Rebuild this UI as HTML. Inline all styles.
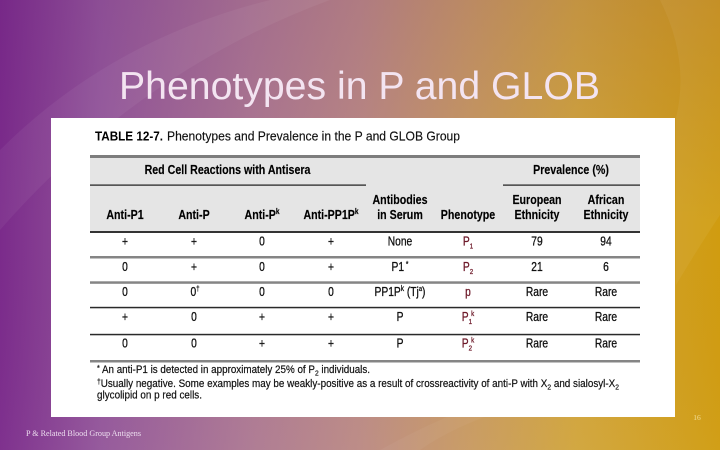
<!DOCTYPE html>
<html>
<head>
<meta charset="utf-8">
<style>
  html,body{margin:0;padding:0;background:#fff;}
  body{width:720px;height:450px;overflow:hidden;}
  svg{display:block;}
  .h{font-family:"Liberation Sans",Arial,sans-serif;font-weight:bold;font-size:13px;fill:#000;stroke:#000;stroke-width:0.15px;}
  .b{font-family:"Liberation Sans",Arial,sans-serif;font-size:12.5px;fill:#111;stroke:#111;stroke-width:0.3px;}
  .ph{font-family:"Liberation Sans",Arial,sans-serif;font-size:12.5px;fill:#6e1a2a;stroke:#6e1a2a;stroke-width:0.3px;}
  .fn{font-family:"Liberation Sans",Arial,sans-serif;font-size:11px;fill:#111;stroke:#111;stroke-width:0.2px;}
</style>
</head>
<body>
<svg width="720" height="450" viewBox="0 0 720 450" xmlns="http://www.w3.org/2000/svg">
  <defs>
    <linearGradient id="bg" x1="0" y1="0" x2="1" y2="0">
      <stop offset="0" stop-color="#7b2b8b"/>
      <stop offset="0.14" stop-color="#93569a"/>
      <stop offset="0.35" stop-color="#ad7992"/>
      <stop offset="0.5" stop-color="#bb8a84"/>
      <stop offset="0.65" stop-color="#c89a62"/>
      <stop offset="0.8" stop-color="#d1a53c"/>
      <stop offset="1" stop-color="#d09c10"/>
    </linearGradient>
    <linearGradient id="vsh" x1="0" y1="0" x2="0" y2="1">
      <stop offset="0" stop-color="#5a1070" stop-opacity="0.12"/>
      <stop offset="0.5" stop-color="#5a1070" stop-opacity="0"/>
      <stop offset="1" stop-color="#ffffff" stop-opacity="0.03"/>
    </linearGradient>
  </defs>
  <rect x="0" y="0" width="720" height="450" fill="url(#bg)"/>
  <rect x="0" y="0" width="720" height="450" fill="url(#vsh)"/>
  <!-- decorative arcs -->
  <path d="M0,150 Q110,40 270,0 L330,0 Q140,70 0,230 Z" fill="#ffffff" fill-opacity="0.05"/>
  <path d="M660,0 L720,0 L720,215 Q700,245 676,285 L676,118 Q690,60 660,0 Z" fill="#ffffff" fill-opacity="0.05"/>
  <path d="M380,450 Q470,400 560,380 L560,395 Q470,415 420,450 Z" fill="#ffffff" fill-opacity="0.04"/>

  <!-- title -->
  <text x="119" y="99" font-family="'Liberation Sans',Arial,sans-serif" font-size="39" fill="#f3e4f1" textLength="481" lengthAdjust="spacingAndGlyphs">Phenotypes in P and GLOB</text>

  <!-- footer -->
  <text x="26" y="436" font-family="'Liberation Serif','Times New Roman',serif" font-size="8" fill="#eedff0" textLength="115" lengthAdjust="spacingAndGlyphs">P &amp; Related Blood Group Antigens</text>
  <text x="697" y="420" text-anchor="middle" font-family="'Liberation Serif','Times New Roman',serif" font-size="7.5" fill="#f3df9a">16</text>

  <!-- white image box -->
  <rect x="51" y="118" width="624" height="299" fill="#ffffff"/>

  <!-- caption -->
  <text x="95" y="140.5" font-family="'Liberation Sans',Arial,sans-serif" font-weight="bold" font-size="12.5" fill="#000" textLength="68" lengthAdjust="spacingAndGlyphs">TABLE 12-7.</text>
  <text x="167" y="140.5" font-family="'Liberation Sans',Arial,sans-serif" font-size="13" fill="#111" stroke="#111" stroke-width="0.15" textLength="293" lengthAdjust="spacingAndGlyphs">Phenotypes and Prevalence in the P and GLOB Group</text>

  <!-- header background -->
  <rect x="90" y="157" width="550" height="75" fill="#e5e5e5"/>
  <rect x="90" y="155" width="550" height="3" fill="#7d7d7d"/>
  <rect x="90" y="184.5" width="276" height="1.2" fill="#1a1a1a"/>
  <rect x="503" y="184.5" width="137" height="1.2" fill="#1a1a1a"/>

  <!-- header text -->
  <text class="h" text-anchor="middle" transform="translate(227.5,174) scale(0.82,1)">Red Cell Reactions with Antisera</text>
  <text class="h" text-anchor="middle" transform="translate(571,174) scale(0.82,1)">Prevalence (%)</text>

  <text class="h" text-anchor="middle" transform="translate(400,204) scale(0.82,1)">Antibodies</text>
  <text class="h" text-anchor="middle" transform="translate(537,204) scale(0.82,1)">European</text>
  <text class="h" text-anchor="middle" transform="translate(606,204) scale(0.82,1)">African</text>

  <text class="h" text-anchor="middle" transform="translate(125,219) scale(0.82,1)">Anti-P1</text>
  <text class="h" text-anchor="middle" transform="translate(194,219) scale(0.82,1)">Anti-P</text>
  <text class="h" text-anchor="middle" transform="translate(262,219) scale(0.82,1)">Anti-P<tspan font-size="8" dy="-5">k</tspan></text>
  <text class="h" text-anchor="middle" transform="translate(331,219) scale(0.82,1)">Anti-PP1P<tspan font-size="8" dy="-5">k</tspan></text>
  <text class="h" text-anchor="middle" transform="translate(400,219) scale(0.82,1)">in Serum</text>
  <text class="h" text-anchor="middle" transform="translate(468,219) scale(0.82,1)">Phenotype</text>
  <text class="h" text-anchor="middle" transform="translate(537,219) scale(0.82,1)">Ethnicity</text>
  <text class="h" text-anchor="middle" transform="translate(606,219) scale(0.82,1)">Ethnicity</text>

  <!-- row rules -->
  <rect x="90" y="231" width="550" height="2" fill="#333"/>
  <rect x="90" y="256" width="550" height="2.5" fill="#858585"/>
  <rect x="90" y="281.3" width="550" height="2.5" fill="#858585"/>
  <rect x="90" y="306.8" width="550" height="1.5" fill="#2a2a2a"/>
  <rect x="90" y="333.8" width="550" height="1.5" fill="#2a2a2a"/>
  <rect x="90" y="360" width="550" height="2.5" fill="#858585"/>

  <!-- row 1 -->
  <g>
    <text class="b" text-anchor="middle" transform="translate(125,245.5) scale(0.82,1)">+</text>
    <text class="b" text-anchor="middle" transform="translate(194,245.5) scale(0.82,1)">+</text>
    <text class="b" text-anchor="middle" transform="translate(262,245.5) scale(0.82,1)">0</text>
    <text class="b" text-anchor="middle" transform="translate(331,245.5) scale(0.82,1)">+</text>
    <text class="b" text-anchor="middle" transform="translate(400,245.5) scale(0.82,1)">None</text>
    <text class="ph" text-anchor="middle" transform="translate(468,245.5) scale(0.82,1)">P<tspan font-size="7.5" dy="3">1</tspan></text>
    <text class="b" text-anchor="middle" transform="translate(537,245.5) scale(0.82,1)">79</text>
    <text class="b" text-anchor="middle" transform="translate(606,245.5) scale(0.82,1)">94</text>
  </g>
  <!-- row 2 -->
  <g>
    <text class="b" text-anchor="middle" transform="translate(125,271) scale(0.82,1)">0</text>
    <text class="b" text-anchor="middle" transform="translate(194,271) scale(0.82,1)">+</text>
    <text class="b" text-anchor="middle" transform="translate(262,271) scale(0.82,1)">0</text>
    <text class="b" text-anchor="middle" transform="translate(331,271) scale(0.82,1)">+</text>
    <text class="b" text-anchor="middle" transform="translate(400,271) scale(0.82,1)">P1<tspan font-size="8" dy="-4"> *</tspan></text>
    <text class="ph" text-anchor="middle" transform="translate(468,271) scale(0.82,1)">P<tspan font-size="7.5" dy="3">2</tspan></text>
    <text class="b" text-anchor="middle" transform="translate(537,271) scale(0.82,1)">21</text>
    <text class="b" text-anchor="middle" transform="translate(606,271) scale(0.82,1)">6</text>
  </g>
  <!-- row 3 -->
  <g>
    <text class="b" text-anchor="middle" transform="translate(125,296) scale(0.82,1)">0</text>
    <text class="b" text-anchor="middle" transform="translate(195,296) scale(0.82,1)">0<tspan font-size="7.5" dy="-5">†</tspan></text>
    <text class="b" text-anchor="middle" transform="translate(262,296) scale(0.82,1)">0</text>
    <text class="b" text-anchor="middle" transform="translate(331,296) scale(0.82,1)">0</text>
    <text class="b" text-anchor="middle" transform="translate(400,296) scale(0.82,1)">PP1P<tspan font-size="8" dy="-5">k</tspan><tspan dy="5"> (Tj</tspan><tspan font-size="7" dy="-5">a</tspan><tspan dy="5">)</tspan></text>
    <text class="ph" text-anchor="middle" transform="translate(468,296) scale(0.82,1)">p</text>
    <text class="b" text-anchor="middle" transform="translate(537,296) scale(0.82,1)">Rare</text>
    <text class="b" text-anchor="middle" transform="translate(606,296) scale(0.82,1)">Rare</text>
  </g>
  <!-- row 4 -->
  <g>
    <text class="b" text-anchor="middle" transform="translate(125,321) scale(0.82,1)">+</text>
    <text class="b" text-anchor="middle" transform="translate(194,321) scale(0.82,1)">0</text>
    <text class="b" text-anchor="middle" transform="translate(262,321) scale(0.82,1)">+</text>
    <text class="b" text-anchor="middle" transform="translate(331,321) scale(0.82,1)">+</text>
    <text class="b" text-anchor="middle" transform="translate(400,321) scale(0.82,1)">P</text>
    <text class="ph" text-anchor="middle" transform="translate(468,321) scale(0.82,1)">P<tspan font-size="7.5" dy="3">1</tspan><tspan font-size="7.5" dx="-1" dy="-8">k</tspan></text>
    <text class="b" text-anchor="middle" transform="translate(537,321) scale(0.82,1)">Rare</text>
    <text class="b" text-anchor="middle" transform="translate(606,321) scale(0.82,1)">Rare</text>
  </g>
  <!-- row 5 -->
  <g>
    <text class="b" text-anchor="middle" transform="translate(125,347.5) scale(0.82,1)">0</text>
    <text class="b" text-anchor="middle" transform="translate(194,347.5) scale(0.82,1)">0</text>
    <text class="b" text-anchor="middle" transform="translate(262,347.5) scale(0.82,1)">+</text>
    <text class="b" text-anchor="middle" transform="translate(331,347.5) scale(0.82,1)">+</text>
    <text class="b" text-anchor="middle" transform="translate(400,347.5) scale(0.82,1)">P</text>
    <text class="ph" text-anchor="middle" transform="translate(468,347.5) scale(0.82,1)">P<tspan font-size="7.5" dy="3">2</tspan><tspan font-size="7.5" dx="-1" dy="-8">k</tspan></text>
    <text class="b" text-anchor="middle" transform="translate(537,347.5) scale(0.82,1)">Rare</text>
    <text class="b" text-anchor="middle" transform="translate(606,347.5) scale(0.82,1)">Rare</text>
  </g>

  <!-- footnotes -->
  <text class="fn" x="97" y="373" textLength="273" lengthAdjust="spacingAndGlyphs"><tspan font-size="8" dy="-2">*</tspan><tspan dy="2"> An anti-P1 is detected in approximately 25% of P</tspan><tspan font-size="7.5" dy="2.5">2</tspan><tspan dy="-2.5"> individuals.</tspan></text>
  <text class="fn" x="97" y="387" textLength="522" lengthAdjust="spacingAndGlyphs"><tspan font-size="7.5" dy="-3">†</tspan><tspan dy="3">Usually negative. Some examples may be weakly-positive as a result of crossreactivity of anti-P with X</tspan><tspan font-size="7.5" dy="2.5">2</tspan><tspan dy="-2.5"> and sialosyl-X</tspan><tspan font-size="7.5" dy="2.5">2</tspan></text>
  <text class="fn" x="97" y="398.5" textLength="105" lengthAdjust="spacingAndGlyphs">glycolipid on p red cells.</text>
</svg>
</body>
</html>
